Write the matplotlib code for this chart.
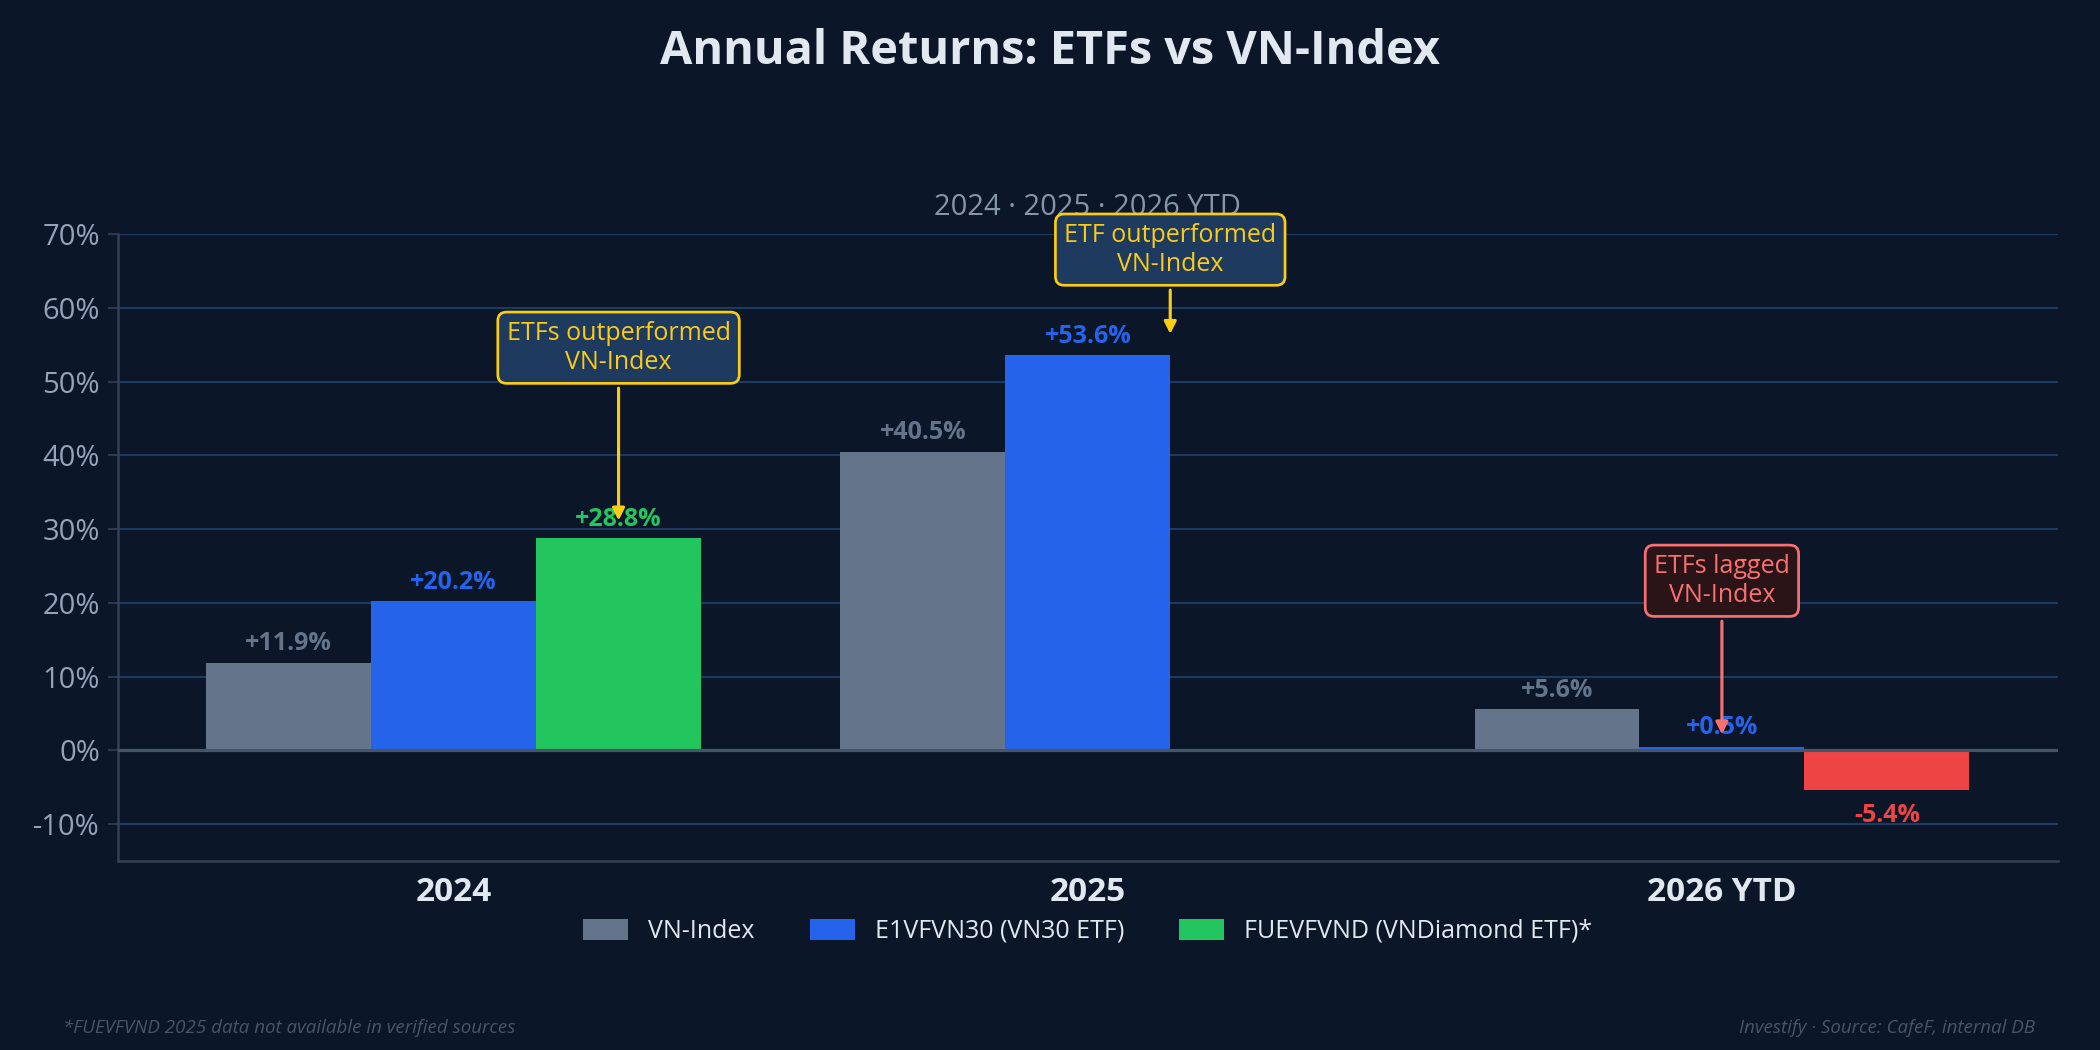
import numpy as np
import matplotlib
matplotlib.use("Agg")
import matplotlib.pyplot as plt
from matplotlib.patches import Patch

plt.rcParams['font.family'] = ['Open Sans', 'Noto Sans', 'DejaVu Sans']

# ---- data ----
periods = ["2024", "2025", "2026 YTD"]
series_names = ["VN-Index", "E1VFVN30 (VN30 ETF)", "FUEVFVND (VNDiamond ETF)*"]
vn_index = [11.9, 40.5, 5.6]
e1vfvn30 = [20.2, 53.6, 0.5]
fuevfvnd = [28.8, np.nan, -5.4]
y_ticks = [-10, 0, 10, 20, 30, 40, 50, 60, 70]

BG = "#0b1628"
GRAY = "#64748b"
BLUE = "#2563eb"
GREEN = "#22c55e"
RED = "#ef4444"
GRID = "#1e3a5f"
TXT = "#e2e8f0"
TICK = "#94a3b8"

fig = plt.figure(figsize=(14, 7), dpi=150, facecolor=BG)
ax = fig.add_axes([0.056, 0.180, 0.924, 0.597])
ax.set_facecolor(BG)

x = np.arange(len(periods))
w = 0.26
series = [vn_index, e1vfvn30, fuevfvnd]
colors = [GRAY, BLUE, GREEN]
offsets = [-w, 0, w]

for vals, col, off in zip(series, colors, offsets):
    for xi, v in zip(x, vals):
        if np.isnan(v):
            continue
        c = col
        if col == GREEN and v < 0:
            c = RED
        ax.bar(xi + off, v, width=w, color=c, zorder=3, linewidth=0)
        label = f"{v:+.1f}%"
        if v >= 0:
            ax.annotate(label, (xi + off, v), xytext=(0, 3), textcoords="offset points",
                        ha="center", va="bottom", color=c, fontsize=12,
                        fontweight="bold", zorder=5)
        else:
            ax.annotate(label, (xi + off, v), xytext=(0, -6), textcoords="offset points",
                        ha="center", va="top", color=c, fontsize=12,
                        fontweight="bold", zorder=5)

ax.axhline(0, color="#475569", lw=1.5, zorder=4)

ax.set_xlim(-0.53, 2.53)
ax.set_ylim(-15, 70)
ax.set_yticks(y_ticks)
ax.set_yticklabels([f"{t}%" for t in y_ticks])
ax.set_xticks(x)
ax.set_xticklabels(periods, fontsize=16, fontweight="bold", color=TXT)
ax.tick_params(axis="x", length=0, pad=7)
ax.tick_params(axis="y", colors=TICK, labelsize=14, length=5, color="#334155")
ax.yaxis.grid(True, color=GRID, lw=1, zorder=0)
ax.set_axisbelow(True)
for s in ["top", "right"]:
    ax.spines[s].set_visible(False)
for s in ["left", "bottom"]:
    ax.spines[s].set_color("#334155")
    ax.spines[s].set_linewidth(1.2)

ax.set_title("2024 · 2025 · 2026 YTD", color="#8596ab", fontsize=14, pad=9)
fig.suptitle("Annual Returns: ETFs vs VN-Index", color=TXT, fontsize=22.5,
             fontweight="bold", y=0.951, va="center")

# annotations
YEL = "#facc15"
ax.annotate("ETFs outperformed\nVN-Index", xy=(0 + w, 30.6), xytext=(0 + w, 54.6),
            ha="center", va="center", color=YEL, fontsize=12, zorder=6,
            bbox=dict(boxstyle="round,pad=0.35", fc="#1e3a5f", ec=YEL, lw=1.3),
            arrowprops=dict(arrowstyle="-|>", color=YEL, lw=1.5, mutation_scale=12))
ax.annotate("ETF outperformed\nVN-Index", xy=(1.13, 55.9), xytext=(1.13, 67.9),
            ha="center", va="center", color=YEL, fontsize=12, zorder=6,
            bbox=dict(boxstyle="round,pad=0.35", fc="#1e3a5f", ec=YEL, lw=1.3),
            arrowprops=dict(arrowstyle="-|>", color=YEL, lw=1.5, mutation_scale=12))
PINK = "#f87171"
ax.annotate("ETFs lagged\nVN-Index", xy=(2, 1.6), xytext=(2, 23.0),
            ha="center", va="center", color=PINK, fontsize=12, zorder=6,
            bbox=dict(boxstyle="round,pad=0.35", fc="#2a1418", ec=PINK, lw=1.3),
            arrowprops=dict(arrowstyle="-|>", color=PINK, lw=1.5, mutation_scale=12))

handles = [Patch(facecolor=c, edgecolor="none") for c in colors]
fig.legend(handles, series_names, loc="center", bbox_to_anchor=(0.518, 0.113),
           ncol=3, frameon=False, fontsize=12, labelcolor=TXT,
           handlelength=1.8, handleheight=0.9, columnspacing=2.2)

fig.text(0.030, 0.021, "*FUEVFVND 2025 data not available in verified sources",
         color="#475569", fontsize=9, style="italic", ha="left", va="center")
fig.text(0.969, 0.021, "Investify · Source: CafeF, internal DB",
         color="#475569", fontsize=9, style="italic", ha="right", va="center")

fig.savefig("out.png", dpi=150, facecolor=BG)
